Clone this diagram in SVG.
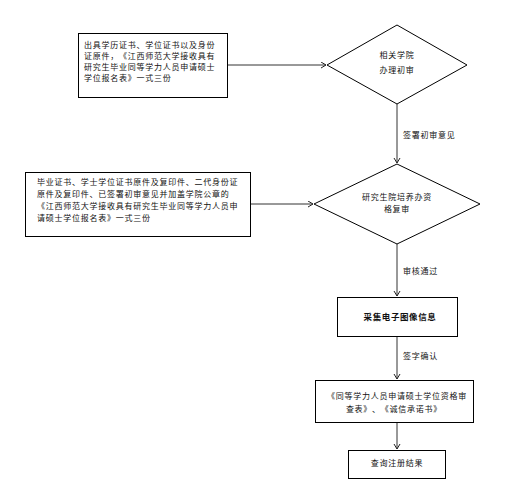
<svg xmlns="http://www.w3.org/2000/svg" width="530" height="499" viewBox="0 0 530 499">
<defs>
<marker id="arr" markerWidth="8" markerHeight="8" refX="6" refY="3.5" orient="auto" markerUnits="userSpaceOnUse">
<path d="M1,0.5 L6,3.5 L1,6.5" fill="none" stroke="#222" stroke-width="1"/>
</marker>
<style>
.s{fill:#fff;stroke:#000;stroke-width:1}
.c{fill:none;stroke:#333;stroke-width:1}
text{font-family:"Noto Sans CJK SC","Noto Sans",sans-serif;font-size:8px;letter-spacing:0.75px;fill:#111;text-spacing-trim:space-all}
.m{text-anchor:middle}
.b{font-weight:bold;font-size:8.5px;letter-spacing:0.6px}
</style>
</defs>
<rect width="530" height="499" fill="#fff"/>
<g id="connectors">
<line class="c" x1="228" y1="65" x2="326" y2="65" marker-end="url(#arr)"/>
<line class="c" x1="251" y1="204" x2="313" y2="204" marker-end="url(#arr)"/>
<line class="c" x1="397" y1="104" x2="397" y2="163" marker-end="url(#arr)"/>
<line class="c" x1="397" y1="244" x2="397" y2="296" marker-end="url(#arr)"/>
<line class="c" x1="397" y1="337" x2="397" y2="379" marker-end="url(#arr)"/>
<line class="c" x1="397" y1="423" x2="397" y2="449" marker-end="url(#arr)"/>
<text x="403" y="138">签署初审意见</text>
<text x="403" y="274">审核通过</text>
<text x="403" y="359">签字确认</text>
</g>
<g id="box1">
<rect class="s" x="78.5" y="33.5" width="149" height="64"/>
<text x="84" y="48">出具学历证书、学位证书以及身份</text>
<text x="84" y="59">证原件，《江西师范大学接收具有</text>
<text x="84" y="70">研究生毕业同等学力人员申请硕士</text>
<text x="84" y="81">学位报名表》一式三份</text>
</g>
<g id="d1">
<polygon class="s" points="397,25 467,65 397,104 327,65"/>
<text class="m" x="397" y="58">相关学院</text>
<text class="m" x="397" y="73">办理初审</text>
</g>
<g id="box2">
<rect class="s" x="25.5" y="172.5" width="225" height="64"/>
<text x="37" y="185">毕业证书、学士学位证书原件及复印件、二代身份证</text>
<text x="37" y="197">原件及复印件、已签署初审意见并加盖学院公章的</text>
<text x="37" y="209">《江西师范大学接收具有研究生毕业同等学力人员申</text>
<text x="37" y="221">请硕士学位报名表》一式三份</text>
</g>
<g id="d2">
<polygon class="s" points="397,164 480,204 397,244 314,204"/>
<text class="m" x="397" y="200">研究生院培养办资</text>
<text class="m" x="397" y="212">格复审</text>
</g>
<g id="box3">
<rect class="s" x="337.5" y="297.5" width="120" height="39"/>
<text class="m b" x="400" y="320">采集电子图像信息</text>
</g>
<g id="box4">
<rect class="s" x="315.5" y="380.5" width="158" height="42"/>
<text class="m" x="397" y="399">《同等学力人员申请硕士学位资格审</text>
<text class="m" x="394" y="412">查表》、《诚信承诺书》</text>
</g>
<g id="box5">
<rect class="s" x="348.5" y="450.5" width="97" height="28"/>
<text class="m" x="397" y="466">查询注册结果</text>
</g>
</svg>
